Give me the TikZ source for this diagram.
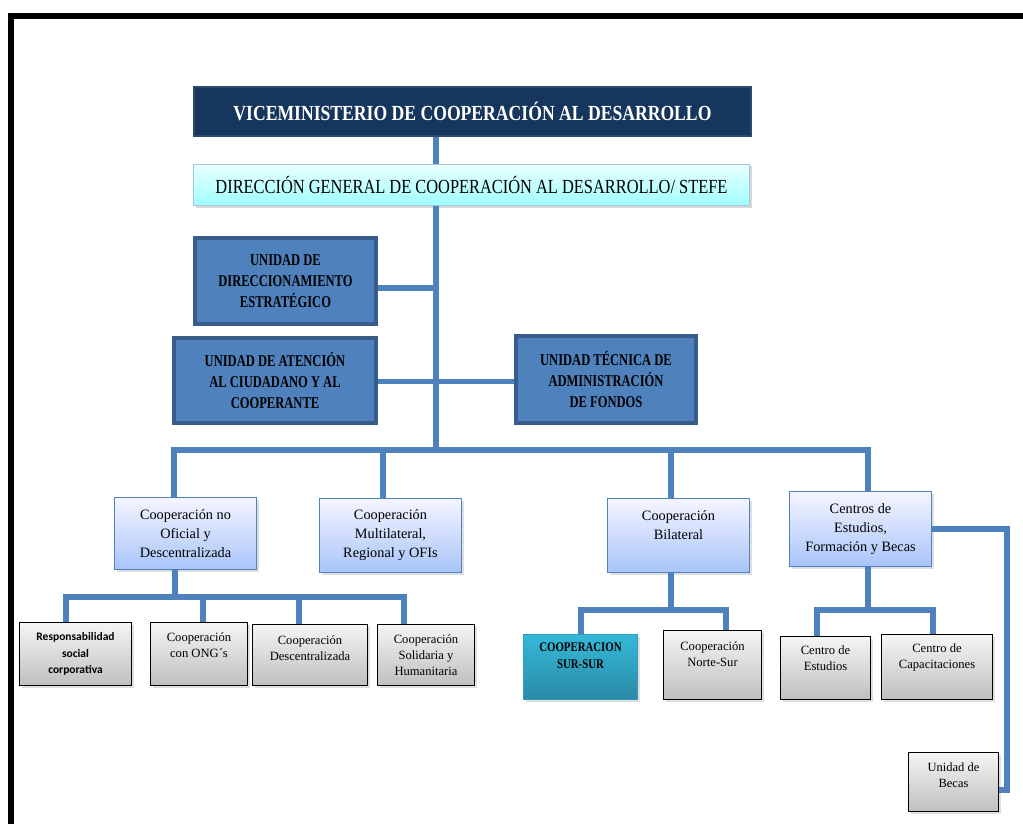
\documentclass[tikz,border=0pt]{standalone}
\usepackage{fontspec}
\setmainfont{Liberation Serif}
\newfontfamily\cnd[FakeStretch=0.82]{Liberation Serif}
\newfontfamily\cndu[FakeStretch=0.76]{Liberation Serif}
\newfontfamily\sansb{Carlito}
\usetikzlibrary{shadows}
\definecolor{navy}{HTML}{17365D}
\definecolor{navyline}{HTML}{2C4A70}
\definecolor{lnk}{HTML}{4F81BD}
\definecolor{unit}{HTML}{4F81BD}
\definecolor{unitline}{HTML}{385D8A}
\begin{document}
\begin{tikzpicture}[x=1pt,y=-1pt,
  conn/.style={draw=lnk,line width=5.5pt},
  vicebox/.style={draw=navyline,line width=2pt,fill=navy,text=white,
    font=\cnd\bfseries\fontsize{21.5}{24}\selectfont},
  dirbox/.style={draw=cyan!40!lnk!50,line width=1pt,top color=cyan!8,bottom color=cyan!38!white,
    drop shadow={shadow xshift=2pt,shadow yshift=-2pt,opacity=0.3},
    font=\cnd\fontsize{20}{22}\selectfont},
  unitbox/.style={draw=unitline,line width=4pt,fill=unit,align=center,
    font=\cndu\bfseries\fontsize{16.5}{21}\selectfont},
  lvtwo/.style={draw=lnk,line width=1.3pt,top color=blue!4!white,bottom color={rgb,255:red,168;green,196;blue,250},
    align=center,drop shadow={shadow xshift=2pt,shadow yshift=-2pt,opacity=0.25},
    font=\fontsize{14.3}{19}\selectfont},
  graybox/.style={draw=black,line width=1.3pt,top color=gray!8,bottom color=gray!50,
    align=center,drop shadow={shadow xshift=2pt,shadow yshift=-2pt,opacity=0.25},
    font=\fontsize{12.6}{16}\selectfont},
  tealbox/.style={draw={rgb,255:red,46;green,155;blue,191},line width=1pt,
    top color={rgb,255:red,53;green,184;blue,216},bottom color={rgb,255:red,42;green,138;blue,166},
    align=center,drop shadow={shadow xshift=2pt,shadow yshift=-2pt,opacity=0.25}},
  inner sep=0pt]
\useasboundingbox (0,0) rectangle (1023,824);
\fill[white] (0,0) rectangle (1023,824);
% frame
\draw[line width=6pt] (11,824) -- (11,16) -- (1023,16);

% top
\node[vicebox,minimum width=557pt,minimum height=49pt] (vice) at (472.5,111.5) {VICEMINISTERIO DE COOPERACIÓN AL DESARROLLO};
\node[dirbox,minimum width=556pt,minimum height=41pt] (dir) at (471.5,185) {DIRECCIÓN GENERAL DE COOPERACIÓN AL DESARROLLO/ STEFE};

\node[unitbox,minimum width=181pt,minimum height=86pt] (udir) at (285.5,281) {UNIDAD DE\\DIRECCIONAMIENTO\\ESTRATÉGICO};
\node[unitbox,minimum width=202pt,minimum height=85pt] (uaten) at (275,380.5) {UNIDAD DE ATENCIÓN\\AL CIUDADANO Y AL\\COOPERANTE};
\node[unitbox,minimum width=180pt,minimum height=87pt] (utec) at (606,379.5) {UNIDAD TÉCNICA DE\\ADMINISTRACIÓN\\DE FONDOS};

% level 2
\node[lvtwo,minimum width=142pt,minimum height=72pt] (nooficial) at (185.5,533.5) {Cooperación no\\Oficial y\\Descentralizada};
\node[lvtwo,minimum width=142pt,minimum height=74pt] (multi) at (390.5,535.5) {Cooperación\\Multilateral,\\Regional y OFIs};
\node[lvtwo,minimum width=142pt,minimum height=74pt,
  label={[font=\fontsize{14.3}{19}\selectfont,align=center,yshift=10pt]center:{Cooperación\\Bilateral}}] (bilat) at (678.5,535.5) {};
\node[lvtwo,minimum width=142pt,minimum height=75pt] (centros) at (860.5,529) {Centros de\\Estudios,\\Formación y Becas};

% level 3
\node[graybox,minimum width=112pt,minimum height=63pt,font=\sansb\bfseries\fontsize{11.5}{16.5}\selectfont] (resp) at (75.5,654) {Responsabilidad\\social\\corporativa};
\node[graybox,minimum width=97pt,minimum height=63pt,
  label={[font=\fontsize{12.6}{16}\selectfont,align=center,yshift=9pt]center:{Cooperación\\con ONG´s}}] (ong) at (199,654) {};
\node[graybox,minimum width=115pt,minimum height=61pt,
  label={[font=\fontsize{12.6}{16}\selectfont,align=center,yshift=7pt]center:{Cooperación\\Descentralizada}}] (desc) at (310,655) {};
\node[graybox,minimum width=97pt,minimum height=61pt] (solid) at (426,655) {Cooperación\\Solidaria y\\Humanitaria};

\node[tealbox,minimum width=114pt,minimum height=65pt,
  label={[font=\cnd\bfseries\fontsize{13.2}{17}\selectfont,align=center,yshift=11pt]center:{COOPERACION\\SUR-SUR}}] (sursur) at (580.5,667) {};
\node[graybox,minimum width=98pt,minimum height=69pt,
  label={[font=\fontsize{12.6}{16}\selectfont,align=center,yshift=11pt]center:{Cooperación\\Norte-Sur}}] (norte) at (712.5,665) {};
\node[graybox,minimum width=90pt,minimum height=63pt,
  label={[font=\fontsize{12.6}{16}\selectfont,align=center,yshift=10pt]center:{Centro de\\Estudios}}] (cest) at (825.5,668) {};
\node[graybox,minimum width=111pt,minimum height=65pt,
  label={[font=\fontsize{12.6}{16}\selectfont,align=center,yshift=10pt]center:{Centro de\\Capacitaciones}}] (ccap) at (937,667) {};
\node[graybox,minimum width=90pt,minimum height=59pt,
  label={[font=\fontsize{12.5}{16.5}\selectfont,align=center,yshift=7pt]center:{Unidad de\\Becas}}] (becas) at (953.5,782) {};

% coordinates
\coordinate (trunk) at (436,450);
\coordinate (b1) at (174,450);
\coordinate (b2) at (383,450);
\coordinate (b3) at (671,450);
\coordinate (b4) at (868,450);
\coordinate (n0) at (175,597);
\coordinate (n1) at (66,597);
\coordinate (n2) at (203,597);
\coordinate (n3) at (299,597);
\coordinate (n4) at (404,597);
\coordinate (s0) at (671,610);
\coordinate (s1) at (581,610);
\coordinate (s2) at (726,610);
\coordinate (c0) at (868,610);
\coordinate (c1) at (817,610);
\coordinate (c2) at (933,610);
\coordinate (r1) at (1007,529);
\coordinate (r2) at (1007,790);

% connectors
\draw[conn] (vice.south -| trunk) -- (dir.north -| trunk);
\draw[conn] (dir.south -| trunk) -- (trunk);
\draw[conn] ([yshift=-7pt]udir.east) -- ([yshift=-7pt]udir.east -| trunk);
\draw[conn] ([yshift=-1pt]uaten.east) -- ([yshift=-1pt]uaten.east -| utec.west);
\draw[conn] (b1 |- nooficial.north) -- (b1) -- (b4) -- (b4 |- centros.north);
\draw[conn] (b2) -- (b2 |- multi.north);
\draw[conn] (b3) -- (b3 |- bilat.north);

\draw[conn] (n0 |- nooficial.south) -- (n0);
\draw[conn] (n1 |- resp.north) -- (n1) -- (n4) -- (n4 |- solid.north);
\draw[conn] (n2) -- (n2 |- ong.north);
\draw[conn] (n3) -- (n3 |- desc.north);

\draw[conn] (s0 |- bilat.south) -- (s0);
\draw[conn] (s1 |- sursur.north) -- (s1) -- (s2) -- (s2 |- norte.north);

\draw[conn] (c0 |- centros.south) -- (c0);
\draw[conn] (c1 |- cest.north) -- (c1) -- (c2) -- (c2 |- ccap.north);

\draw[conn] (centros.east) -- (r1) -- (r2) -- (r2 -| becas.east);
\end{tikzpicture}
\end{document}
